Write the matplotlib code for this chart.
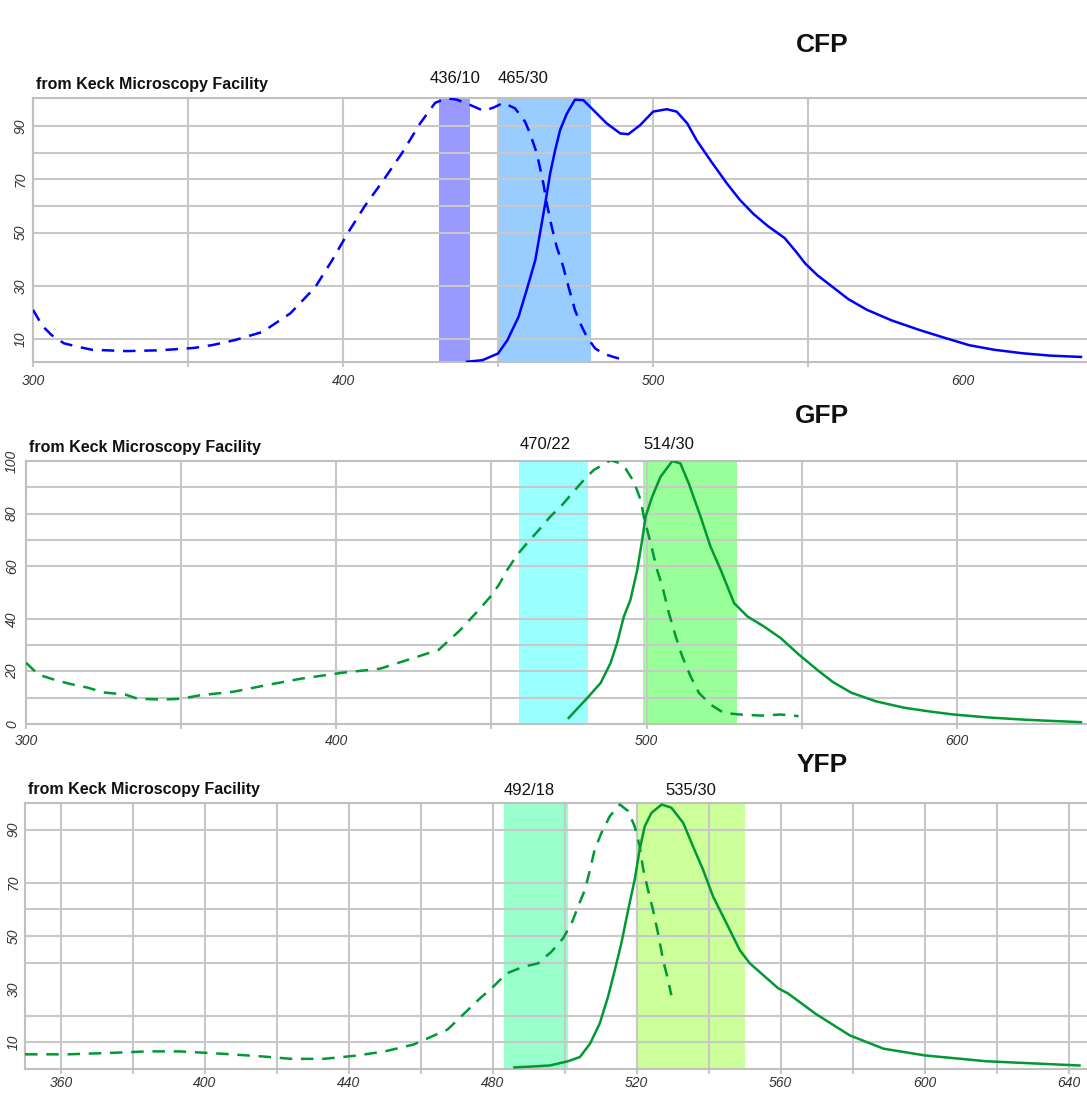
import matplotlib.pyplot as plt

plt.rcParams['font.family'] = ['Liberation Sans', 'DejaVu Sans']

# CFP spectra: wavelength (nm) and relative intensity (%)
cfp_ex_nm = [300, 303, 306, 310, 315, 319, 330, 341, 352, 358, 365, 374, 383, 391, 396.5,
             401.5, 407, 413, 419, 424.8, 429.7, 433.4, 436.7, 441, 445.3, 448.5, 451.7,
             455.5, 458.7, 460.3, 462.5, 464.6, 465.7, 467.3, 468.9, 471, 472.7, 474.8,
             476.5, 478.6, 481.3, 484, 487.2, 489.9]
cfp_ex = [21, 15, 11.5, 8.4, 7, 6, 5.5, 5.8, 6.7, 7.8, 9.6, 12.7, 19.7, 29.5, 39.7,
          49.8, 60, 69.7, 79.9, 91, 98.8, 100.5, 100, 98, 95.8, 97, 98.8,
          96.7, 91.7, 87.3, 79.8, 68.5, 61, 52.2, 44.7, 37.2, 29.7, 20.9,
          15.9, 10.9, 6.5, 4.5, 3.3, 2.4]
cfp_em_nm = [440, 445, 450, 453, 456.6, 459.2, 462, 463.5, 465.2, 466.8, 468.4, 470, 472.2,
             474.8, 477.5, 480.7, 485, 489.4, 492, 495.8, 500, 504.4, 507.6, 511, 514,
             518.4, 523.8, 528, 532.4, 537, 542.4, 546, 549, 553, 558, 563, 569, 577,
             586, 594, 602, 610, 619, 628, 638]
cfp_em = [1.5, 2.1, 4.6, 9.6, 18.4, 28.4, 39.7, 49.7, 61, 72.3, 81, 88.6, 94.8,
          100, 99.8, 96.1, 91.1, 87.3, 87, 90.4, 95.5, 96.4, 95.5, 91.1, 84.8,
          77.3, 68.5, 62.3, 57, 52.5, 48, 43, 38.5, 34, 29.5, 25, 21, 17,
          13.4, 10.5, 7.7, 6, 4.7, 3.8, 3.3]
cfp_filters = [(436, 10), (465, 30)]

# GFP spectra
gfp_ex_nm = [300, 304, 309, 314, 320, 325, 332, 336, 344, 350, 356, 367, 378, 389, 402,
             414, 422, 433, 440, 446.5, 449.7, 452.4, 455.1, 458.3, 461.5, 465.3, 469,
             472.8, 476, 479.8, 483, 488.4, 491.6, 493.2, 495.9, 498.1, 499.1, 501.3,
             503.4, 505.1, 507.2, 509.4, 511.5, 514.2, 516.9, 520.6, 524.9, 530.3,
             536.8, 543.2, 549]
gfp_ex = [23.3, 18.8, 16.9, 15.3, 13.8, 12, 11.2, 9.6, 9.3, 9.6, 10.9, 12.3, 14.9, 17.3, 19.5,
          21, 24, 28.2, 35.8, 44.1, 48.5, 52.9, 58.6, 64.3, 68.8, 73.8, 78.9,
          83.3, 87.7, 92.8, 96.6, 100.3, 99.1, 97.2, 92.1, 85.2, 78.9, 68.8,
          58.6, 52.3, 42.2, 33.3, 25.7, 18.1, 11.8, 7.4, 4.2, 3.6,
          3.2, 3.6, 3.0]
gfp_em_nm = [474.9, 480.9, 485.2, 488.4, 490.5, 492.7, 494.8, 497, 498.6, 499.7, 501.8,
             504.5, 508.3, 510.9, 513.6, 517.4, 520.6, 523.9, 528.2, 532.5, 537.8,
             543.2, 549, 555, 560, 566, 574, 583, 591, 599, 610, 621, 630, 640]
gfp_em = [2.3, 9.9, 15.6, 23.2, 30.8, 40.9, 47.2, 58.6, 70, 78.9, 86.4,
          94, 100, 99.1, 91.5, 78.9, 67.5, 58.6, 46, 40.9, 37.1,
          32.7, 26.5, 20.6, 16, 11.9, 8.6, 6.2, 4.8, 3.6, 2.5, 1.7, 1.2, 0.7]
gfp_filters = [(470, 22), (514, 30)]

# YFP spectra
yfp_ex_nm = [350, 362, 375, 384, 393, 405, 416, 424, 433, 442, 450, 458, 467.4, 476.4,
             480.1, 483.8, 488.4, 492.6, 496.3, 499.5, 501.9, 503.7, 505.6, 507, 508.3,
             510.2, 512.5, 515.3, 517.6, 519.4, 520.8, 521.8, 523.1, 524.5, 525.9, 527.3,
             528.7, 529.6]
yfp_ex = [5.5, 5.5, 6.1, 6.6, 6.6, 5.7, 4.7, 3.8, 3.8, 5, 6.6, 9.2, 14.8, 26.5,
          30.9, 35.9, 38.4, 39.7, 44.1, 49.1, 54.8, 61.1, 67.4, 74.9, 82.5,
          88.8, 95, 99.4, 96.9, 91.2, 83.7, 74.9, 67.4, 59.8, 51, 40.9,
          33.4, 27.7]
yfp_em_nm = [486, 490.7, 495.8, 500.9, 504.2, 507, 509.7, 512, 513.9, 515.7, 517.6, 519.4,
             520.8, 522.2, 524.1, 526.9, 529.6, 532.9, 535.6, 538.4, 541.2, 544.9, 548.6,
             551.4, 555.1, 559.3, 562, 569.6, 579.2, 588.6, 600, 617, 643]
yfp_em = [0.6, 0.9, 1.3, 2.9, 4.5, 9.5, 17.1, 27.1, 37.2, 47.2, 59.8, 71.1,
          82.5, 91.2, 96.3, 99.4, 98.2, 92.5, 83.7, 74.9, 64.8, 54.8, 44.7,
          39.7, 35.3, 30.3, 28.4, 20.8, 12.6, 7.6, 5.1, 2.9, 1.3]
yfp_filters = [(492, 18), (535, 30)]

GRID = '#c8c8c8'
BLUE = '#0000ff'
GREEN = '#009933'

panels = [
    dict(name='CFP', rect=[0.0304, 0.6688, 0.9726, 0.2415], color=BLUE,
         ex=(cfp_ex_nm, cfp_ex), em=(cfp_em_nm, cfp_em), filters=cfp_filters,
         band_colors=['#9999ff', '#99ccff'], label_ha=['center', 'left'], label_lift=14,
         xlim=(300, 641), ylim=(1.4, 100.6), xpad=14, ypad=4,
         xticks=[300, 400, 500, 600], xgrid=[300, 350, 400, 450, 500, 550],
         yticks=[10, 30, 50, 70, 90], ygrid=[10, 30, 50, 60, 70, 80, 90],
         title_y=45),
    dict(name='GFP', rect=[0.0239, 0.3376, 0.9791, 0.2406], color=GREEN,
         ex=(gfp_ex_nm, gfp_ex), em=(gfp_em_nm, gfp_em), filters=gfp_filters,
         band_colors=['#99ffff', '#99ff99'], label_ha=['left', 'left'], label_lift=12,
         xlim=(300, 643), ylim=(0, 100), xpad=12, ypad=5,
         xticks=[300, 400, 500, 600], xgrid=[300, 350, 400, 450, 500, 550, 600],
         yticks=[0, 20, 40, 60, 80, 100], ygrid=[10, 20, 30, 40, 60, 70, 80, 90],
         title_y=416),
    dict(name='YFP', rect=[0.0230, 0.0220, 0.9800, 0.2434], color=GREEN,
         ex=(yfp_ex_nm, yfp_ex), em=(yfp_em_nm, yfp_em), filters=yfp_filters,
         band_colors=['#99ffcc', '#ccff99'], label_ha=['left', 'center'], label_lift=9,
         xlim=(350, 646), ylim=(0, 100), xpad=10, ypad=3,
         xticks=[360, 400, 440, 480, 520, 560, 600, 640],
         xgrid=list(range(360, 641, 20)),
         yticks=[10, 30, 50, 70, 90], ygrid=[10, 20, 40, 50, 60, 70, 90],
         title_y=765),
]

fig = plt.figure(figsize=(10.87, 10.93), dpi=100)

for p in panels:
    ax = fig.add_axes(p['rect'])
    ax.set_xlim(*p['xlim'])
    ax.set_ylim(*p['ylim'])

    # filter pass bands
    for (centre, width), col, ha in zip(p['filters'], p['band_colors'], p['label_ha']):
        lo, hi = centre - width / 2, centre + width / 2
        ax.axvspan(lo, hi, color=col, lw=0, zorder=0.5)
        ax.annotate(f'{centre}/{width}', xy=(centre if ha == 'center' else lo, 1),
                    xycoords=('data', 'axes fraction'), xytext=(0, p['label_lift']),
                    textcoords='offset points', ha=ha, va='center', fontsize=12,
                    color='#111111')

    # grid lines; the vertical ones poke a little below the frame
    for gx in p['xgrid']:
        ax.axvline(gx, ymin=-0.016, ymax=1, color=GRID, lw=1.5, zorder=1, clip_on=False)
    for gy in p['ygrid']:
        ax.axhline(gy, color=GRID, lw=1.5, zorder=1)

    ax.set_xticks(p['xticks'])
    ax.set_xticklabels([str(t) for t in p['xticks']])
    ax.set_yticks(p['yticks'])
    ax.set_yticklabels([str(t) for t in p['yticks']])
    ax.tick_params(axis='x', length=0, pad=p['xpad'], labelsize=10, labelcolor='#333333')
    ax.tick_params(axis='y', length=0, pad=p['ypad'], labelsize=10, labelcolor='#333333',
                   labelrotation=90)
    for lab in ax.get_xticklabels() + ax.get_yticklabels():
        lab.set_fontstyle('italic')
        lab.set_va('center')

    for side in ['top', 'left', 'bottom']:
        ax.spines[side].set_color('#c0c0c0')
        ax.spines[side].set_linewidth(1.5)
    ax.spines['right'].set_visible(False)

    ax.plot(*p['ex'], color=p['color'], lw=1.8, dashes=(5, 3.5), zorder=3)
    ax.plot(*p['em'], color=p['color'], lw=1.8, zorder=3)

    ax.annotate('from Keck Microscopy Facility', xy=(0, 1), xycoords='axes fraction',
                xytext=(2, 10), textcoords='offset points', ha='left', va='center',
                fontsize=11.5, fontweight='bold', color='#111111')

    fig.text(822 / 1087, 1 - p['title_y'] / 1093, p['name'], ha='center', va='center',
             fontsize=19, fontweight='bold', color='#111111')

fig.savefig('out.png', dpi=100)
